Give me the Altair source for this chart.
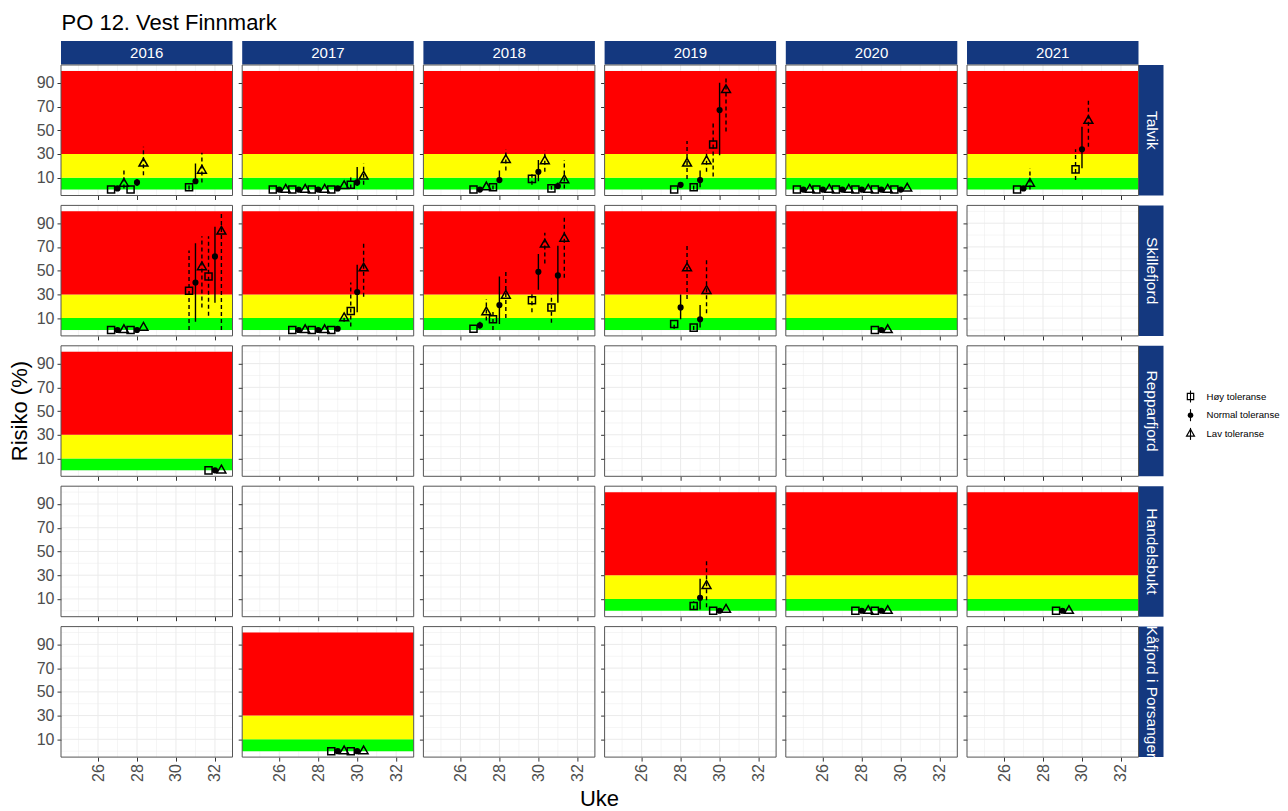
import altair as alt
import pandas as pd

TITLE = "PO 12. Vest Finnmark"
X_TITLE = "Uke"
Y_TITLE = "Risiko (%)"
LOCATIONS = ["Talvik", "Skillefjord", "Repparfjord", "Handelsbukt", "Kåfjord i Porsanger"]
YEARS = [2016, 2017, 2018, 2019, 2020, 2021]
TOL_CODES = ["H", "N", "L"]
TOL_LABELS = ["Høy toleranse", "Normal toleranse", "Lav toleranse"]

X_TICKS = [26, 28, 30, 32]
X_MINOR = [25, 27, 29, 31]
Y_TICKS = [10, 30, 50, 70, 90]
Y_MINOR = [0, 20, 40, 60, 80, 100]
X_DOMAIN = [24.1, 32.9]
Y_DOMAIN = [-5, 105]

BAND_LOW = [0, 10, 30]
BAND_HIGH = [10, 30, 100]
BAND_COLORS = ["#00FF00", "#FFFF00", "#FF0000"]

# (week, tolerance, risk %, lower, upper)   None = no interval drawn
TALVIK_2016 = [
    (27, "H", 0, None, None), (27, "N", 1, None, None), (27, "L", 5, 1, 17),
    (28, "H", 0, None, None), (28, "N", 6, 3, 9), (28, "L", 22, 12, 36),
    (31, "H", 2, 0, 4), (31, "N", 7, 6, 22), (31, "L", 16, 6, 31),
]
TALVIK_2017 = [
    (26, "H", 0, None, None), (26, "N", 0, None, None), (26, "L", 0, None, None),
    (27, "H", 0, None, None), (27, "N", 0, None, None), (27, "L", 0, None, None),
    (28, "H", 0, None, None), (28, "N", 0, None, None), (28, "L", 0, None, None),
    (29, "H", 0, None, None), (29, "N", 1, None, None), (29, "L", 3, None, None),
    (30, "H", 4, 1, 11), (30, "N", 6, 3, 19), (30, "L", 11, 4, 22),
]
TALVIK_2018 = [
    (27, "H", 0, None, None), (27, "N", 0, None, None), (27, "L", 2, None, None),
    (28, "H", 2, 0, 4), (28, "N", 8, 6, 16), (28, "L", 25, 16, 34),
    (30, "H", 9, 4, 13), (30, "N", 15, 7, 25), (30, "L", 24, 15, 33),
    (31, "H", 1, 0, 3), (31, "N", 3, 1, 6), (31, "L", 8, 1, 25),
]
TALVIK_2019 = [
    (28, "H", 0, None, None), (28, "N", 4, 2, 6), (28, "L", 22, 9, 41),
    (29, "H", 2, 0, 4), (29, "N", 8, 2, 16), (29, "L", 24, 15, 33),
    (30, "H", 38, 11, 56), (30, "N", 67, 29, 90), (30, "L", 84, 49, 95),
]
TALVIK_2020 = [
    (25, "H", 0, None, None), (25, "N", 0, None, None), (25, "L", 0, None, None),
    (26, "H", 0, None, None), (26, "N", 0, None, None), (26, "L", 0, None, None),
    (27, "H", 0, None, None), (27, "N", 0, None, None), (27, "L", 0, None, None),
    (28, "H", 0, None, None), (28, "N", 0, None, None), (28, "L", 0, None, None),
    (29, "H", 0, None, None), (29, "N", 0, None, None), (29, "L", 0, None, None),
    (30, "H", 0, None, None), (30, "N", 0, None, None), (30, "L", 1, None, None),
]
TALVIK_2021 = [
    (27, "H", 0, None, None), (27, "N", 1, None, None), (27, "L", 5, 0, 18),
    (30, "H", 17, 8, 34), (30, "N", 34, 18, 53), (30, "L", 58, 36, 76),
]
SKILLEFJORD_2016 = [
    (27, "H", 0, None, None), (27, "N", 0, None, None), (27, "L", 0, None, None),
    (28, "H", 0, None, None), (28, "N", 0, None, None), (28, "L", 2, None, None),
    (31, "H", 33, 0, 67), (31, "N", 40, 7, 73), (31, "L", 53, 19, 79),
    (32, "H", 45, 12, 79), (32, "N", 62, 23, 87), (32, "L", 83, 0, 98),
]
SKILLEFJORD_2017 = [
    (27, "H", 0, None, None), (27, "N", 0, None, None), (27, "L", 0, None, None),
    (28, "H", 0, None, None), (28, "N", 0, None, None), (28, "L", 0, None, None),
    (29, "H", 0, None, None), (29, "N", 1, None, None), (29, "L", 10, 7, 13),
    (30, "H", 16, 3, 40), (30, "N", 32, 15, 55), (30, "L", 52, 28, 73),
]
SKILLEFJORD_2018 = [
    (27, "H", 1, None, None), (27, "N", 4, 1, 7), (27, "L", 15, 8, 26),
    (28, "H", 9, 0, 17), (28, "N", 21, 5, 45), (28, "L", 29, 10, 51),
    (30, "H", 25, 15, 32), (30, "N", 49, 34, 64), (30, "L", 72, 56, 82),
    (31, "H", 19, 6, 30), (31, "N", 46, 23, 71), (31, "L", 77, 44, 96),
]
SKILLEFJORD_2019 = [
    (28, "H", 5, 1, 6), (28, "N", 19, 9, 30), (28, "L", 52, 26, 73),
    (29, "H", 2, 0, 4), (29, "N", 9, 2, 21), (29, "L", 33, 14, 61),
]
SKILLEFJORD_2020 = [
    (29, "H", 0, None, None), (29, "N", 0, None, None), (29, "L", 0, None, None),
]
REPPARFJORD_2016 = [
    (32, "H", 0, None, None), (32, "N", 0, None, None), (32, "L", 0, None, None),
]
HANDELSBUKT_2019 = [
    (29, "H", 4, 1, 8), (29, "N", 11, 1, 27), (29, "L", 21, 3, 43),
    (30, "H", 0, None, None), (30, "N", 0, None, None), (30, "L", 1, None, None),
]
HANDELSBUKT_2020 = [
    (28, "H", 0, None, None), (28, "N", 0, None, None), (28, "L", 0, None, None),
    (29, "H", 0, None, None), (29, "N", 0, None, None), (29, "L", 0, None, None),
]
HANDELSBUKT_2021 = [
    (29, "H", 0, None, None), (29, "N", 0, None, None), (29, "L", 0, None, None),
]
KAAFJORD_2017 = [
    (29, "H", 0, None, None), (29, "N", 0, None, None), (29, "L", 0, None, None),
    (30, "H", 0, None, None), (30, "N", 0, None, None), (30, "L", 0, None, None),
]

PANEL_DATA = {
    ("Talvik", 2016): TALVIK_2016, ("Talvik", 2017): TALVIK_2017,
    ("Talvik", 2018): TALVIK_2018, ("Talvik", 2019): TALVIK_2019,
    ("Talvik", 2020): TALVIK_2020, ("Talvik", 2021): TALVIK_2021,
    ("Skillefjord", 2016): SKILLEFJORD_2016, ("Skillefjord", 2017): SKILLEFJORD_2017,
    ("Skillefjord", 2018): SKILLEFJORD_2018, ("Skillefjord", 2019): SKILLEFJORD_2019,
    ("Skillefjord", 2020): SKILLEFJORD_2020,
    ("Repparfjord", 2016): REPPARFJORD_2016,
    ("Handelsbukt", 2019): HANDELSBUKT_2019, ("Handelsbukt", 2020): HANDELSBUKT_2020,
    ("Handelsbukt", 2021): HANDELSBUKT_2021,
    ("Kåfjord i Porsanger", 2017): KAAFJORD_2017,
}

DODGE = {"H": -0.33, "N": 0.0, "L": 0.33}
TRIANGLE = "M0,-1L0.866,0.5L-0.866,0.5Z"
SHAPES = {"H": ("square", False, 50), "N": ("circle", True, 38), "L": (TRIANGLE, False, 105)}
DASHES = {"H": [4, 3], "N": [1, 0], "L": [4, 3]}

W, H = 171.5, 130.5
FONT = "Liberation Sans"
STRIP = "#14387F"
GRID = "#EBEBEB"

xs = alt.Scale(domain=X_DOMAIN, nice=False, zero=False)
ys = alt.Scale(domain=Y_DOMAIN, nice=False, zero=False)


def panel(r, c):
    loc, year = LOCATIONS[r], YEARS[c]
    xaxis = alt.Axis(values=X_TICKS, labels=(r == len(LOCATIONS) - 1), labelAngle=270,
                     labelFontSize=16, labelColor="#4D4D4D", labelFont=FONT, labelPadding=2.5,
                     ticks=True, tickSize=4, tickColor="#333333", tickWidth=1,
                     grid=False, domain=False, title=None)
    yaxis = alt.Axis(values=Y_TICKS, labels=(c == 0), labelFontSize=16, labelColor="#4D4D4D",
                     labelFont=FONT, labelPadding=3, ticks=True, tickSize=4,
                     tickColor="#333333", tickWidth=1, grid=False, domain=False, title=None)
    X = lambda f: alt.X(f, scale=xs, axis=xaxis)
    Y = lambda f: alt.Y(f, scale=ys, axis=yaxis)

    vgrid = pd.DataFrame({"x": X_TICKS + X_MINOR, "w": [1.0] * len(X_TICKS) + [0.5] * len(X_MINOR)})
    hgrid = pd.DataFrame({"y": Y_TICKS + Y_MINOR, "w": [1.0] * len(Y_TICKS) + [0.5] * len(Y_MINOR)})
    layers = [
        alt.Chart(vgrid).mark_rule(color=GRID).encode(
            x=X("x:Q"), strokeWidth=alt.StrokeWidth("w:Q", scale=None)),
        alt.Chart(hgrid).mark_rule(color=GRID).encode(
            y=Y("y:Q"), strokeWidth=alt.StrokeWidth("w:Q", scale=None)),
    ]
    rows = PANEL_DATA.get((loc, year))
    if rows:
        bands = pd.DataFrame({"lo": BAND_LOW, "hi": BAND_HIGH, "col": BAND_COLORS})
        layers.append(alt.Chart(bands).mark_rect().encode(
            x=alt.value(0), x2=alt.value(W), y=Y("lo:Q"), y2="hi:Q",
            fill=alt.Fill("col:N", scale=None)))
        df = pd.DataFrame(rows, columns=["week", "tol", "val", "lo", "hi"])
        df["xpos"] = df["week"] + df["tol"].map(DODGE)
        for t in TOL_CODES:
            sub = df[(df["tol"] == t) & df["lo"].notna()]
            if len(sub):
                layers.append(alt.Chart(sub).mark_rule(
                    color="black", strokeWidth=1.4, strokeDash=DASHES[t]).encode(
                    x=X("xpos:Q"), y=Y("lo:Q"), y2="hi:Q"))
        for t in TOL_CODES:
            sub = df[df["tol"] == t]
            shape, filled, size = SHAPES[t]
            layers.append(alt.Chart(sub).mark_point(
                shape=shape, filled=filled, color="black", size=size,
                strokeWidth=1.5, opacity=1).encode(x=X("xpos:Q"), y=Y("val:Q")))

    one = pd.DataFrame({"year": [str(year)], "loc": [loc]})
    if r == 0:
        layers.append(alt.Chart(one).mark_rect(color=STRIP).encode(
            x=alt.value(0), x2=alt.value(W), y=alt.value(-24), y2=alt.value(-0.5)))
        layers.append(alt.Chart(one).mark_text(
            color="white", font=FONT, fontSize=15, align="center", baseline="middle").encode(
            x=alt.value(W / 2), y=alt.value(-12), text="year:N"))
    if c == len(YEARS) - 1:
        layers.append(alt.Chart(one).mark_rect(color=STRIP).encode(
            x=alt.value(W + 0.5), x2=alt.value(W + 25), y=alt.value(0), y2=alt.value(H)))
        layers.append(alt.Chart(one).mark_text(
            color="white", font=FONT, fontSize=15.5, align="center", baseline="middle",
            angle=90).encode(x=alt.value(W + 13), y=alt.value(H / 2), text="loc:N"))
    if r == 0 and c == 0:
        layers.append(alt.Chart(pd.DataFrame({"t": [TITLE]})).mark_text(
            color="black", font=FONT, fontSize=22, align="left", baseline="alphabetic").encode(
            x=alt.value(0.5), y=alt.value(-35.2), text="t:N"))
        layers.append(alt.Chart(one).mark_rect(opacity=0).encode(
            x=alt.value(-53), x2=alt.value(-52), y=alt.value(-56.5), y2=alt.value(-55.5)))
    if r == 2 and c == 0:
        layers.append(alt.Chart(pd.DataFrame({"t": [Y_TITLE]})).mark_text(
            color="black", font=FONT, fontSize=22, align="center", baseline="middle",
            angle=270).encode(x=alt.value(-41.5), y=alt.value(H / 2), text="t:N"))
    if r == len(LOCATIONS) - 1 and c == 2:
        layers.append(alt.Chart(pd.DataFrame({"t": [X_TITLE]})).mark_text(
            color="black", font=FONT, fontSize=22, align="center", baseline="alphabetic").encode(
            x=alt.value(W + 4.6), y=alt.value(179.5), text="t:N"))
    if r == 2 and c == len(YEARS) - 1:
        for i, (t, lab) in enumerate(zip(TOL_CODES, TOL_LABELS)):
            ly = 50.7 + 18.7 * i
            item = pd.DataFrame({"lab": [lab]})
            shape, filled, size = SHAPES[t]
            layers.append(alt.Chart(item).mark_rule(color="black", strokeWidth=1.1).encode(
                x=alt.value(W + 52), y=alt.value(ly - 6), y2=alt.value(ly + 6)))
            layers.append(alt.Chart(item).mark_point(
                shape=shape, filled=filled, color="black", size=size * 0.8,
                strokeWidth=1.2, opacity=1).encode(x=alt.value(W + 52), y=alt.value(ly)))
            layers.append(alt.Chart(item).mark_text(
                color="black", font=FONT, fontSize=9.6, align="left", baseline="middle").encode(
                x=alt.value(W + 68), y=alt.value(ly), text="lab:N"))

    layers.append(alt.Chart(one).mark_rect(fill=None, stroke="#555555", strokeWidth=1).encode(
        x=alt.value(0), x2=alt.value(W), y=alt.value(0), y2=alt.value(H)))
    return alt.layer(*layers).properties(width=W, height=H)


panels = [panel(r, c) for r in range(len(LOCATIONS)) for c in range(len(YEARS))]
chart = alt.concat(*panels, columns=6, spacing={"row": 9.4, "column": 9.2},
                   bounds="flush").properties(padding=0).configure_view(stroke=None)

chart.save("out.html", embed_options={"renderer": "svg", "actions": False})
